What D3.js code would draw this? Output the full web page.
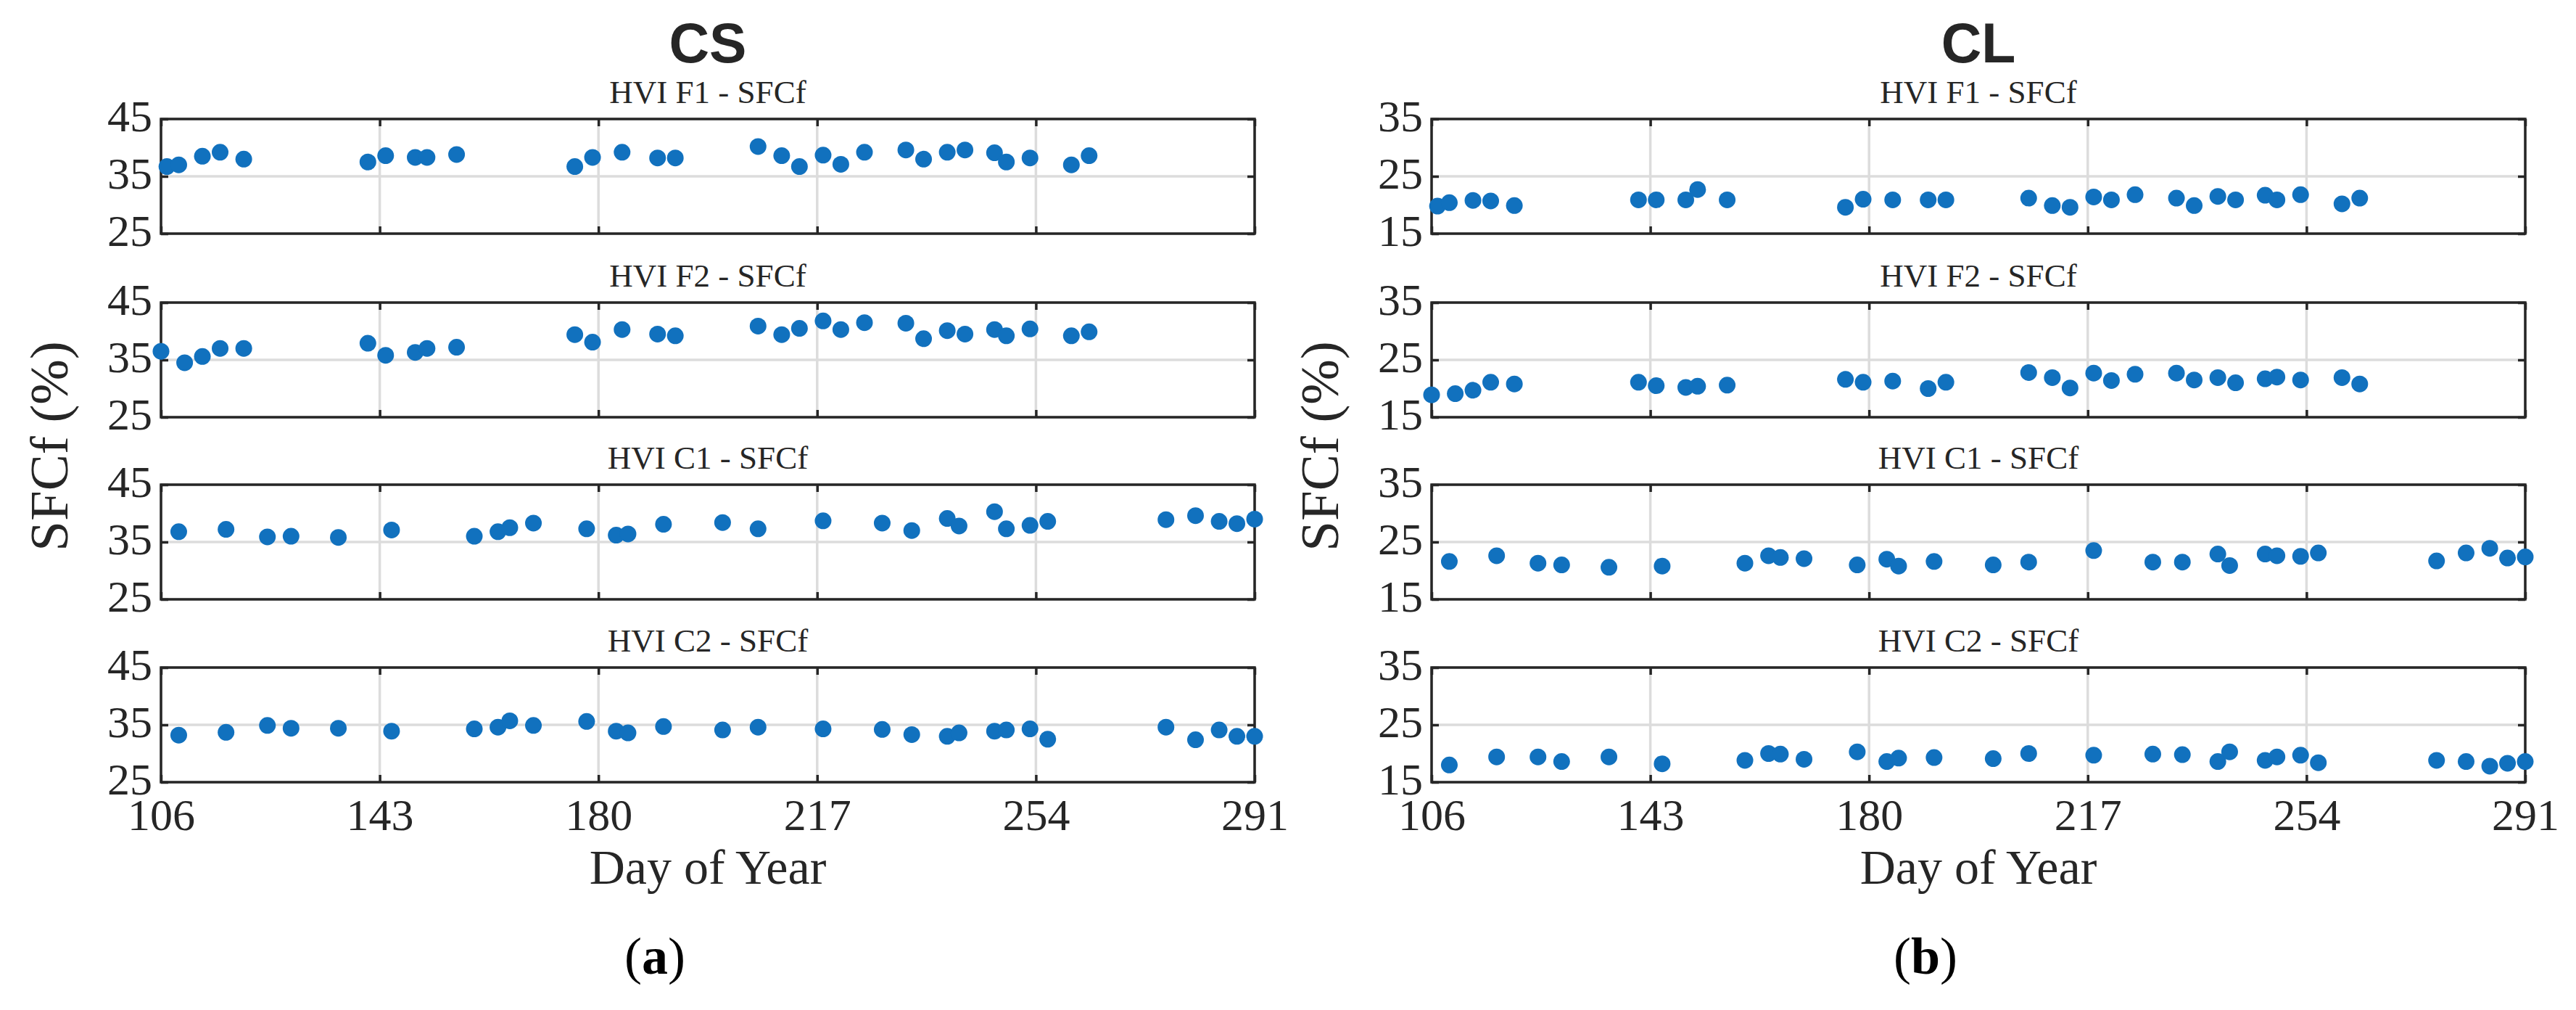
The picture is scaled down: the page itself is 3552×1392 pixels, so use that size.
<!DOCTYPE html>
<html>
<head>
<meta charset="utf-8">
<script src="https://cdn.jsdelivr.net/npm/d3@7"></script>
<style>
  body { margin: 0; background: #fff; }
</style>
</head>
<body>
<div id="chart"></div>
<script>
// ---- data ----
const dayTicks = [106, 143, 180, 217, 254, 291];
const csTicks = [25, 35, 45];
const clTicks = [15, 25, 35];
const panelNames = ["HVI F1 - SFCf", "HVI F2 - SFCf", "HVI C1 - SFCf", "HVI C2 - SFCf"];

const daysF1 = [107, 109, 113, 116, 120, 141, 144, 149, 151, 156, 176, 179, 184, 190, 193,
                207, 211, 214, 218, 221, 225, 232, 235, 239, 242, 247, 249, 253, 260, 263];
const daysF2 = [106, 110, 113, 116, 120, 141, 144, 149, 151, 156, 176, 179, 184, 190, 193,
                207, 211, 214, 218, 221, 225, 232, 235, 239, 242, 247, 249, 253, 260, 263];
const daysC = [109, 117, 124, 128, 136, 145, 159, 163, 165, 169, 178, 183, 185, 191, 201,
               207, 218, 228, 233, 239, 241, 247, 249, 253, 256, 276, 281, 285, 288, 291];

const csF1 = [36.7, 37.0, 38.5, 39.2, 38.0, 37.5, 38.6, 38.3, 38.3, 38.8, 36.7, 38.3, 39.2, 38.2, 38.2,
              40.2, 38.6, 36.7, 38.7, 37.1, 39.2, 39.6, 38.0, 39.2, 39.6, 39.1, 37.5, 38.2, 37.0, 38.6];
const csF2 = [36.5, 34.5, 35.6, 37.0, 37.0, 37.9, 35.8, 36.3, 37.0, 37.2, 39.4, 38.1, 40.3, 39.5, 39.2,
              40.9, 39.4, 40.5, 41.8, 40.3, 41.5, 41.4, 38.7, 40.1, 39.5, 40.3, 39.2, 40.4, 39.2, 39.9];
const csC1 = [36.8, 37.2, 35.9, 36.0, 35.8, 37.1, 36.0, 36.8, 37.5, 38.3, 37.3, 36.2, 36.4, 38.1, 38.4,
              37.3, 38.7, 38.3, 37.0, 39.1, 37.8, 40.3, 37.3, 37.9, 38.6, 38.9, 39.6, 38.6, 38.2, 39.0];
const csC2 = [33.2, 33.7, 34.9, 34.4, 34.4, 33.9, 34.3, 34.6, 35.7, 34.9, 35.6, 33.9, 33.6, 34.7, 34.1,
              34.6, 34.3, 34.2, 33.3, 33.0, 33.6, 33.9, 34.1, 34.3, 32.5, 34.6, 32.4, 34.1, 33.0, 33.0];

const clF1 = [19.8, 20.4, 20.8, 20.7, 19.9, 20.9, 20.9, 20.9, 22.7, 20.9, 19.6, 21.0, 20.9, 20.9, 20.9,
              21.2, 19.9, 19.6, 21.4, 20.9, 21.8, 21.2, 19.9, 21.5, 20.9, 21.7, 20.9, 21.8, 20.2, 21.2];
const clF2 = [18.9, 19.1, 19.7, 21.1, 20.8, 21.1, 20.5, 20.2, 20.4, 20.6, 21.6, 21.1, 21.3, 20.0, 21.1,
              22.8, 21.9, 20.1, 22.7, 21.4, 22.5, 22.7, 21.5, 21.9, 21.0, 21.7, 22.0, 21.5, 21.9, 20.8];
const clC1 = [21.6, 22.6, 21.3, 21.0, 20.6, 20.8, 21.3, 22.6, 22.3, 22.1, 21.0, 22.0, 20.8, 21.6, 21.0,
              21.5, 23.5, 21.5, 21.5, 22.9, 20.9, 22.9, 22.6, 22.5, 23.1, 21.7, 23.1, 23.9, 22.2, 22.4];
const clC2 = [18.0, 19.4, 19.4, 18.6, 19.4, 18.2, 18.8, 20.0, 19.9, 19.0, 20.3, 18.6, 19.2, 19.3, 19.1,
              20.0, 19.7, 19.9, 19.8, 18.6, 20.3, 18.8, 19.4, 19.7, 18.4, 18.8, 18.6, 17.8, 18.3, 18.6];

// ---- layout ----
const W = 3552, H = 1392;
const PW = 1508, PH = 158;           // size of one panel
const panelTops = [164, 417, 668, 920];
const AX = "#262626", GRID = "#dcdcdc", DOT = "#1171be";
const serif = "'Liberation Serif', 'Times New Roman', serif";

const groups = [
    {title: "CS", tag: "a", left: 222, yTicks: csTicks,
     series: [[daysF1, csF1], [daysF2, csF2], [daysC, csC1], [daysC, csC2]]},
    {title: "CL", tag: "b", left: 1974, yTicks: clTicks,
     series: [[daysF1, clF1], [daysF2, clF2], [daysC, clC1], [daysC, clC2]]}
];

const svg = d3.select("#chart").append("svg")
    .attr("width", W).attr("height", H)
    .style("font-family", serif);
svg.append("rect").attr("width", W).attr("height", H).attr("fill", "#fff");

// inward ticks, no domain line (the box is drawn separately)
function styleAxis(sel, fontSize) {
    sel.select(".domain").remove();
    sel.selectAll(".tick line").attr("stroke", AX).attr("stroke-width", 3.5);
    sel.selectAll(".tick text")
        .attr("fill", AX)
        .style("font-family", serif)
        .style("font-size", fontSize + "px");
}

groups.forEach((grp) => {
    const g = svg.append("g").attr("transform", `translate(${grp.left},0)`);
    const xScale = d3.scaleLinear().domain([dayTicks[0], dayTicks[dayTicks.length - 1]]).range([0, PW]);
    const yScale = d3.scaleLinear().domain([grp.yTicks[0], grp.yTicks[2]]).range([PH, 0]);

    g.append("text")
        .attr("x", PW / 2).attr("y", 86)
        .attr("text-anchor", "middle")
        .attr("fill", AX)
        .style("font-family", "'Liberation Sans', Arial, sans-serif")
        .style("font-weight", "bold")
        .style("font-size", "77px")
        .text(grp.title);

    grp.series.forEach(([days, vals], pi) => {
        const pg = g.append("g").attr("transform", `translate(0,${panelTops[pi]})`);

        pg.append("text")
            .attr("x", PW / 2).attr("y", -22)
            .attr("text-anchor", "middle")
            .attr("fill", AX)
            .style("font-size", "45px")
            .text(panelNames[pi]);

        // grid
        pg.append("g").selectAll("line")
            .data(dayTicks)
            .join("line")
            .attr("x1", (d) => xScale(d)).attr("x2", (d) => xScale(d))
            .attr("y1", 0).attr("y2", PH)
            .attr("stroke", GRID).attr("stroke-width", 3.5);
        pg.append("g").selectAll("line")
            .data(grp.yTicks)
            .join("line")
            .attr("x1", 0).attr("x2", PW)
            .attr("y1", (d) => yScale(d)).attr("y2", (d) => yScale(d))
            .attr("stroke", GRID).attr("stroke-width", 3.5);

        // box
        pg.append("rect")
            .attr("width", PW).attr("height", PH)
            .attr("fill", "none")
            .attr("stroke", AX).attr("stroke-width", 3.5);

        // axes
        pg.append("g")
            .attr("transform", `translate(0,${PH})`)
            .call(d3.axisBottom(xScale).tickValues(dayTicks).tickSize(-10).tickPadding(22)
                .tickFormat(pi === 3 ? d3.format("d") : () => ""))
            .call(styleAxis, 62);
        pg.append("g")
            .call(d3.axisTop(xScale).tickValues(dayTicks).tickSize(-10).tickFormat(() => ""))
            .call(styleAxis, 62);
        pg.append("g")
            .call(d3.axisLeft(yScale).tickValues(grp.yTicks).tickSize(-10).tickPadding(12))
            .call(styleAxis, 62)
            .selectAll(".tick text").attr("dy", "0.26em");
        pg.append("g")
            .attr("transform", `translate(${PW},0)`)
            .call(d3.axisRight(yScale).tickValues(grp.yTicks).tickSize(-10).tickFormat(() => ""))
            .call(styleAxis, 62);

        // points
        pg.append("g").selectAll("circle")
            .data(days.map((d, i) => ({x: d, y: vals[i]})))
            .join("circle")
            .attr("cx", (d) => xScale(d.x))
            .attr("cy", (d) => yScale(d.y))
            .attr("r", 11.5)
            .attr("fill", DOT);
    });

    // axis labels
    g.append("text")
        .attr("transform", `translate(-129,615) rotate(-90)`)
        .attr("text-anchor", "middle")
        .attr("fill", AX)
        .style("font-size", "75px")
        .text("SFCf (%)");

    g.append("text")
        .attr("x", PW / 2).attr("y", 1218)
        .attr("text-anchor", "middle")
        .attr("fill", AX)
        .style("font-size", "68px")
        .text("Day of Year");

    const tag = g.append("text")
        .attr("x", 681).attr("y", 1342)
        .attr("text-anchor", "middle")
        .attr("fill", "#000")
        .style("font-size", "72px");
    tag.append("tspan").text("(");
    tag.append("tspan").style("font-weight", "bold").text(grp.tag);
    tag.append("tspan").text(")");
});
</script>
</body>
</html>
